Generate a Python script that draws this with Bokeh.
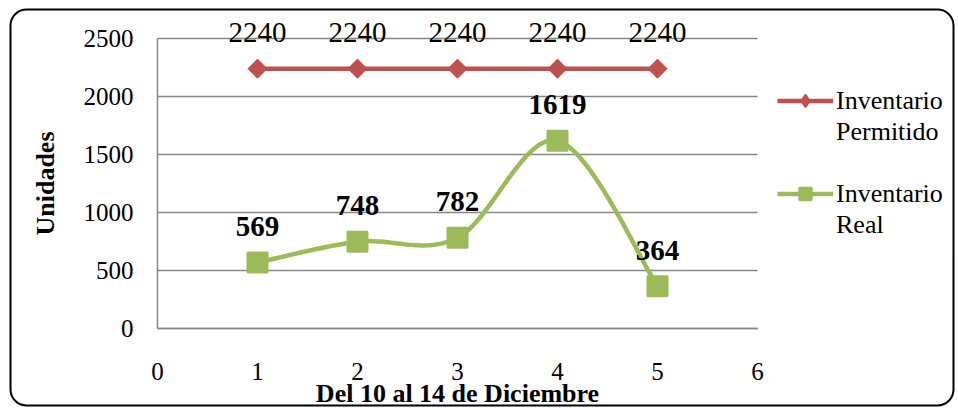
import numpy as np
from bokeh.plotting import figure
from bokeh.models import (ColumnDataSource, LabelSet, Legend, LegendItem, Range1d,
                          FixedTicker, Label, LinearAxis, BoxAnnotation)
from bokeh.embed import file_html
from bokeh.resources import INLINE

# ---- data ----
days = [1, 2, 3, 4, 5]
permitido = [2240, 2240, 2240, 2240, 2240]
real = [569, 748, 782, 1619, 364]
x_ticks = [0, 1, 2, 3, 4, 5, 6]
y_ticks = [0, 500, 1000, 1500, 2000, 2500]
name_permitido = ["Inventario", "Permitido"]
name_real = ["Inventario", "Real"]
x_title = "Del 10 al 14 de Diciembre"
y_title = "Unidades"

RED = "#C0504D"
GREEN = "#9BBB59"
GRID = "#868686"
FONT = "Liberation Serif"

# ---- layout (pixels) ----
W, H = 955, 407           # canvas
PX_X = 100.0              # px per x unit
PX_Y = 290.0 / 2500.0     # px per y unit
X0_PX, Y0_PX = 157, 328   # where (0, 0) sits on the canvas


def smooth(xs, ys, n=40):
    """Catmull-Rom style smoothing (spreadsheet 'smoothed line')."""
    xs = np.asarray(xs, float)
    ys = np.asarray(ys, float)
    k = len(xs)
    mx = np.empty(k)
    my = np.empty(k)
    for i in range(k):
        i0 = max(i - 1, 0)
        i1 = min(i + 1, k - 1)
        mx[i] = (xs[i1] - xs[i0]) / 2
        my[i] = (ys[i1] - ys[i0]) / 2
    t = np.linspace(0, 1, n)
    h00 = 2 * t**3 - 3 * t**2 + 1
    h10 = t**3 - 2 * t**2 + t
    h01 = -2 * t**3 + 3 * t**2
    h11 = t**3 - t**2
    ox, oy = [], []
    for i in range(k - 1):
        ox.extend(h00 * xs[i] + h10 * mx[i] + h01 * xs[i + 1] + h11 * mx[i + 1])
        oy.extend(h00 * ys[i] + h10 * my[i] + h01 * ys[i + 1] + h11 * my[i + 1])
    return ox, oy


def px_x(px):
    return (px - X0_PX) / PX_X


def px_y(px):
    return (Y0_PX - px) / PX_Y


xr = Range1d(px_x(0), px_x(W))
yr = Range1d(px_y(H), px_y(0))

p = figure(width=W, height=H, x_range=xr, y_range=yr,
           x_axis_type=None, y_axis_type=None,
           output_backend="svg", toolbar_location=None,
           min_border_left=0, min_border_right=0, min_border_top=0, min_border_bottom=0)
p.outline_line_color = None
p.background_fill_color = "white"
p.border_fill_color = "white"
p.grid.visible = False

# rounded chart border
p.add_layout(BoxAnnotation(left=px_x(10), right=px_x(953), top=px_y(9), bottom=px_y(405),
                           fill_alpha=0, line_color="black", line_alpha=1.0, line_width=2,
                           border_radius=16, level="underlay"))

# horizontal gridlines
p.segment(x0=[x_ticks[0]] * len(y_ticks), x1=[x_ticks[-1]] * len(y_ticks),
          y0=y_ticks, y1=y_ticks, line_color=GRID, line_width=1.5)

# axes at fixed location
yax = LinearAxis(fixed_location=0, bounds=(y_ticks[0], y_ticks[-1]),
                 ticker=FixedTicker(ticks=y_ticks))
xax = LinearAxis(fixed_location=0, bounds=(x_ticks[0], x_ticks[-1]),
                 ticker=FixedTicker(ticks=x_ticks))
for ax in (xax, yax):
    ax.axis_line_color = GRID
    ax.axis_line_width = 1.5
    ax.major_tick_line_color = None
    ax.minor_tick_line_color = None
    ax.major_tick_out = 0
    ax.major_tick_in = 0
    ax.major_label_text_font = FONT
    ax.major_label_text_font_size = "25px"
    ax.major_label_text_color = "black"
xax.major_label_standoff = 34
yax.major_label_standoff = 24
p.add_layout(yax, "left")
p.add_layout(xax, "below")

# series
ps = ColumnDataSource(dict(x=days, y=permitido, lbl=[str(v) for v in permitido]))
rs = ColumnDataSource(dict(x=days, y=real, lbl=[str(v) for v in real]))
sx, sy = smooth(days, real)

r_line = p.line(days, permitido, line_color=RED, line_width=4.5)
# diamond drawn under the rotated square: it is what the legend shows
r_swatch = p.scatter("x", "y", source=ps, marker="diamond", size=12,
                     fill_color=RED, line_color=RED, line_width=2)
r_mark = p.scatter("x", "y", source=ps, marker="square", angle=np.pi / 4, size=13.5,
                   fill_color=RED, line_color=RED)
g_line = p.line(sx, sy, line_color=GREEN, line_width=4.5)
g_mark = p.scatter("x", "y", source=rs, marker="square", size=20,
                   fill_color=GREEN, line_color=GREEN, line_width=2)
blank = p.line(x=[], y=[], line_alpha=0)

p.add_layout(LabelSet(x="x", y="y", text="lbl", source=ps, y_offset=36,
                      text_align="center", text_baseline="middle",
                      text_font=FONT, text_font_size="29px", text_color="black"))
p.add_layout(LabelSet(x="x", y="y", text="lbl", source=rs, y_offset=36,
                      text_align="center", text_baseline="middle",
                      text_font=FONT, text_font_size="29px", text_font_style="bold",
                      text_color="black"))

# axis titles
p.add_layout(Label(x=(x_ticks[0] + x_ticks[-1]) / 2, y=px_y(393), text=x_title,
                   text_align="center", text_baseline="middle", text_color="black",
                   text_font=FONT, text_font_size="26px", text_font_style="bold"))
p.add_layout(Label(x=px_x(45), y=(y_ticks[0] + y_ticks[-1]) / 2, text=y_title,
                   angle=np.pi / 2, text_align="center", text_baseline="middle",
                   text_color="black", text_font=FONT, text_font_size="26px",
                   text_font_style="bold"))

items = [LegendItem(label=name_permitido[0], renderers=[r_line, r_swatch]),
         LegendItem(label=name_permitido[1], renderers=[blank]),
         LegendItem(label=" ", renderers=[blank]),
         LegendItem(label=name_real[0], renderers=[g_line, g_mark]),
         LegendItem(label=name_real[1], renderers=[blank])]
legend = Legend(items=items, location=(777, H - 240), orientation="vertical",
                glyph_width=56, glyph_height=31, label_height=31, label_standoff=3,
                spacing=0, padding=0, margin=0, border_line_color=None,
                background_fill_alpha=0,
                label_text_font=FONT, label_text_font_size="26px", label_text_color="black")
p.add_layout(legend, "center")

open("out.html", "w").write(file_html(p, INLINE))
